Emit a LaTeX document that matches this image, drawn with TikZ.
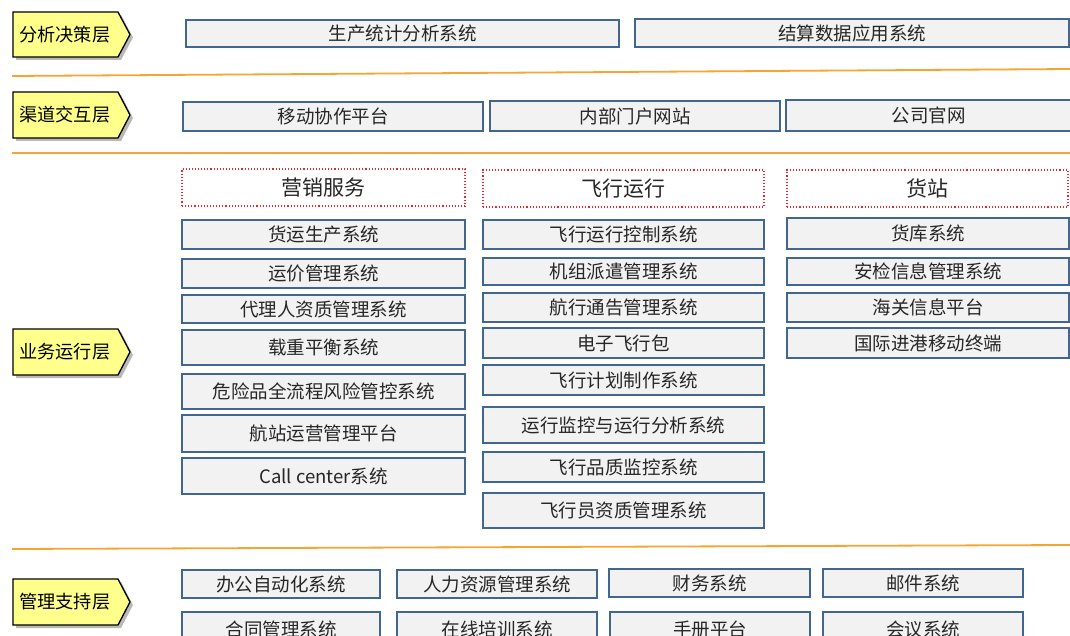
\documentclass[tikz,border=0pt]{standalone}
\usepackage{fontspec}
\setmainfont{Noto Sans CJK SC}
\definecolor{boxfill}{HTML}{F2F2F2}
\definecolor{boxline}{HTML}{41668F}
\definecolor{labfill}{HTML}{FFFF8C}
\definecolor{sepline}{HTML}{F7A531}
\definecolor{catline}{HTML}{E0282D}
\definecolor{txt}{HTML}{262626}
\tikzset{
  sysbox/.style={draw=boxline, fill=boxfill, line width=1.4pt, inner sep=0pt, text=txt, font=\fontsize{18.5}{18.5}\selectfont},
  catbox/.style={draw=catline, fill=white, line width=1.1pt, dotted, inner sep=0pt, text=txt, font=\fontsize{21}{21}\selectfont},
  laytext/.style={anchor=west, inner sep=0pt, text=black, font=\fontsize{18.2}{18.2}\selectfont},
  sep/.style={draw=sepline, line width=1.8pt},
}
% name, x1, y1, x2, y2, text
\newcommand\sysnode[6]{\node[sysbox, minimum width={(#4-#2)*1pt}, minimum height={(#5-#3)*1pt}] (#1) at ({(#2+#4)/2},{(#3+#5)/2}) {#6};}
\newcommand\catnode[6]{\node[catbox, minimum width={(#4-#2)*1pt}, minimum height={(#5-#3)*1pt}] (#1) at ({(#2+#4)/2},{(#3+#5)/2}) {#6};}
% name, y1, y2, text
\newcommand\laynode[4]{%
  \fill[gray!55] (16,#2+3) -- (121,#2+3) -- (133,{(#2+#3)/2+3}) -- (121,#3+3) -- (16,#3+3) -- cycle;
  \draw[fill=labfill, line width=1.3pt, line join=miter] (13,#2) -- (118,#2) -- (130,{(#2+#3)/2}) -- (118,#3) -- (13,#3) -- cycle;
  \node[laytext] (#1) at (19,{(#2+#3)/2}) {#4};}
\begin{document}
\begin{tikzpicture}[x=1pt,y=-1pt]
\useasboundingbox (0,0) rectangle (1070,636);
\fill[white] (0,0) rectangle (1070,636);
% layer labels
\laynode{l1}{12}{57}{分析决策层}
\laynode{l2}{92}{138}{渠道交互层}
\laynode{l3}{329}{375}{业务运行层}
\laynode{l4}{579}{625}{管理支持层}
% separators
\coordinate (s1a) at (12,76); \coordinate (s1b) at (1070,69);
\coordinate (s2a) at (12,153); \coordinate (s2b) at (1070,153);
\coordinate (s3a) at (12,549); \coordinate (s3b) at (1070,545);
\draw[sep] (s1a) -- (s1b);
\draw[sep] (s2a) -- (s2b);
\draw[sep] (s3a) -- (s3b);
% top layer
\sysnode{a1}{186}{20}{619}{47}{生产统计分析系统}
\sysnode{a2}{635}{19}{1069}{47}{结算数据应用系统}
% channel layer
\sysnode{b1}{183}{102}{483}{131}{移动协作平台}
\sysnode{b2}{490}{101}{780}{131}{内部门户网站}
\sysnode{b3}{786}{100}{1071}{131}{公司官网}
% business categories
\catnode{c1}{182}{169}{465}{206}{营销服务}
\catnode{c2}{483}{170}{764}{207}{飞行运行}
\catnode{c3}{787}{170}{1068}{207}{货站}
% marketing column
\sysnode{m1}{182}{220}{465}{249}{货运生产系统}
\sysnode{m2}{182}{259}{465}{288}{运价管理系统}
\sysnode{m3}{182}{295}{465}{323}{代理人资质管理系统}
\sysnode{m4}{182}{330}{465}{365}{载重平衡系统}
\sysnode{m5}{182}{374}{465}{409}{危险品全流程风险管控系统}
\sysnode{m6}{182}{415}{465}{452}{航站运营管理平台}
\sysnode{m7}{182}{458}{465}{494}{Call center系统}
% flight column
\sysnode{f1}{483}{220}{764}{249}{飞行运行控制系统}
\sysnode{f2}{483}{258}{764}{285}{机组派遣管理系统}
\sysnode{f3}{483}{293}{764}{322}{航行通告管理系统}
\sysnode{f4}{483}{328}{764}{358}{电子飞行包}
\sysnode{f5}{483}{365}{764}{395}{飞行计划制作系统}
\sysnode{f6}{483}{407}{764}{443}{运行监控与运行分析系统}
\sysnode{f7}{483}{452}{764}{482}{飞行品质监控系统}
\sysnode{f8}{483}{493}{764}{528}{飞行员资质管理系统}
% cargo column
\sysnode{h1}{787}{218}{1069}{249}{货库系统}
\sysnode{h2}{787}{258}{1069}{285}{安检信息管理系统}
\sysnode{h3}{787}{293}{1069}{322}{海关信息平台}
\sysnode{h4}{787}{328}{1069}{358}{国际进港移动终端}
% management
\sysnode{g1}{182}{570}{380}{598}{办公自动化系统}
\sysnode{g2}{397}{570}{597}{598}{人力资源管理系统}
\sysnode{g3}{609}{569}{810}{597}{财务系统}
\sysnode{g4}{823}{569}{1023}{597}{邮件系统}
\sysnode{g5}{182}{612}{380}{646}{合同管理系统}
\sysnode{g6}{397}{612}{597}{646}{在线培训系统}
\sysnode{g7}{610}{612}{810}{646}{手册平台}
\sysnode{g8}{823}{612}{1023}{646}{会议系统}
\end{tikzpicture}
\end{document}
